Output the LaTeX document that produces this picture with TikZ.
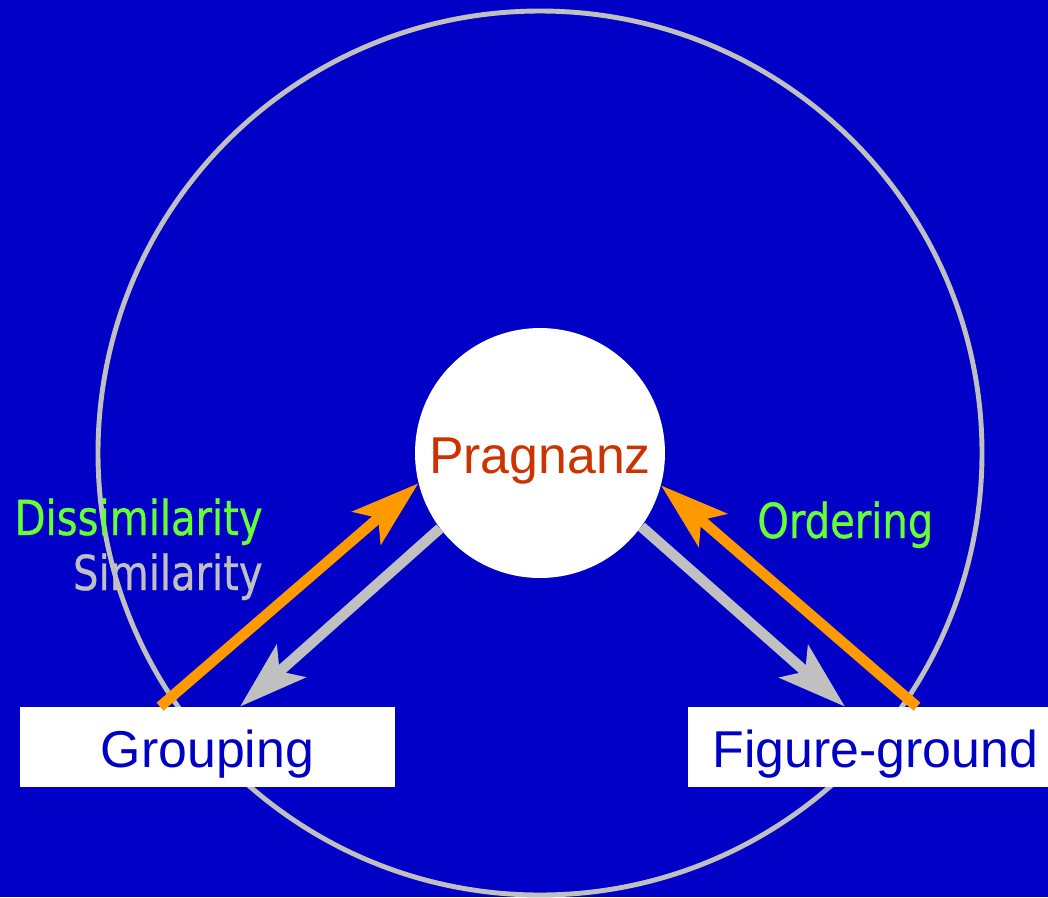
\documentclass[tikz,border=0pt]{standalone}
\usepackage{fontspec}
\setmainfont{Liberation Sans}
\newfontfamily\lblfont[FakeStretch=0.83,FakeBold=0.6]{DejaVu Sans}
\usetikzlibrary{arrows.meta,positioning}
\definecolor{gesblue}{HTML}{0000C6}
\definecolor{gesgrey}{HTML}{C0C0C0}
\definecolor{gesorange}{HTML}{FF9900}
\definecolor{gesgreen}{HTML}{66FF33}
\definecolor{gesred}{HTML}{CC3300}
\tikzset{
  font=\fontsize{29.5}{34}\selectfont,
  hub/.style={circle,fill=white,minimum size=5cm,inner sep=0pt,text=gesred,
              text height=0.8cm,text depth=0pt},
  box/.style={fill=white,text=gesblue,minimum width=7.5cm,minimum height=1.6cm,
              inner sep=0pt,text height=0.8cm,text depth=0pt},
  ring/.style={draw=gesgrey,line width=2.8pt},
  tipped/.style={-{Stealth[length=13.6mm,width=8.6mm,inset=3mm]},line width=6pt},
  upflow/.style={tipped,draw=gesorange},
  downflow/.style={tipped,draw=gesgrey},
  lbl/.style={font=\lblfont\fontsize{27.5}{32}\selectfont,inner sep=0pt},
}

\begin{document}
\begin{tikzpicture}[x=0.02cm,y=-0.02cm]
  \useasboundingbox (0,0) rectangle (1048,897);
  \fill[gesblue] (0,0) rectangle (1048,897);
  % outer ring sits behind the two boxes
  \draw[ring] (540,453) circle (442);

  \node[hub] (prag) at (540,453) {Pragnanz};
  \node[box] (grp) at (207.5,747) {Grouping};
  \node[box] (fig) at (875.5,747) {Figure-ground};

  \node[lbl,text=gesgreen,anchor=base east] (dissim) at (263,535) {Dissimilarity};
  \node[lbl,text=gesgrey,anchor=base east] (sim) at (263,590) {Similarity};
  \node[lbl,text=gesgreen,anchor=base west] (order) at (757,538) {Ordering};

  \draw[upflow] ([xshift=-0.95cm]grp.north) -- (prag.194);
  \draw[downflow] (prag.217) -- ([xshift=0.65cm]grp.north);
  \draw[downflow] (prag.-36) -- ([xshift=-0.61cm]fig.north);
  \draw[upflow] ([xshift=0.83cm]fig.north) -- (prag.-15);
\end{tikzpicture}
\end{document}
